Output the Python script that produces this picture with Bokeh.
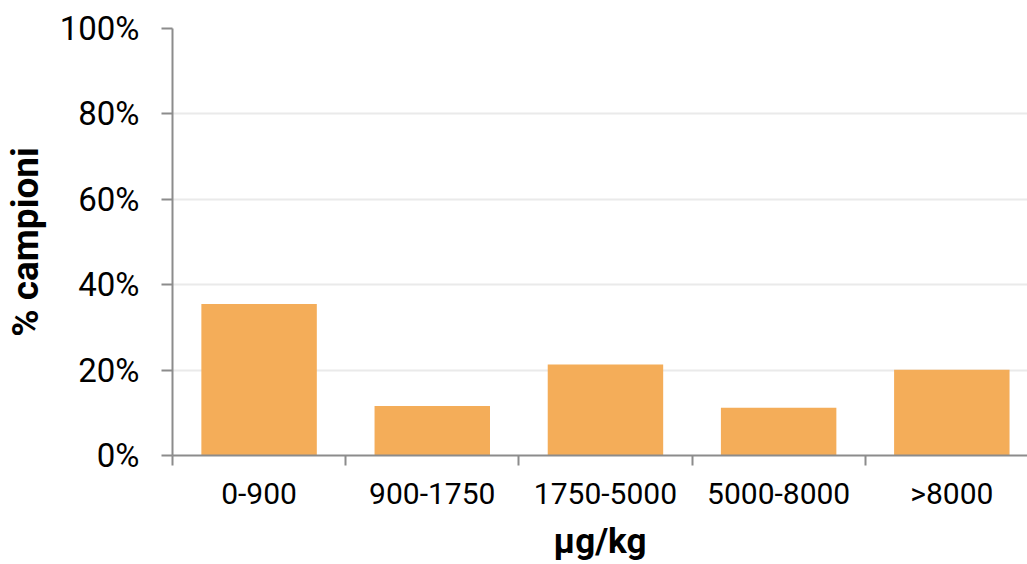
from bokeh.plotting import figure
from bokeh.models import Range1d, FixedTicker, PrintfTickFormatter, ColumnDataSource
from bokeh.embed import file_html
from bokeh.resources import INLINE

categories = ["0-900", "900-1750", "1750-5000", "5000-8000", ">8000"]
percent_samples = [35.5, 11.6, 21.3, 11.2, 20.1]
y_ticks = [0, 20, 40, 60, 80, 100]

BAR_COLOR = "#F4AD59"
AXIS_COLOR = "#8C8C8C"
GRID_COLOR = "#EAEAEA"
FONT = "Roboto"

xs = [i + 0.5 for i in range(len(categories))]
src = ColumnDataSource(dict(x=xs, top=percent_samples, cat=categories))

p = figure(width=1027, height=564, output_backend="svg", toolbar_location=None,
           x_range=Range1d(0, 4.937), y_range=Range1d(0, 100),
           min_border_left=171, min_border_top=28, min_border_right=0, min_border_bottom=108)
p.outline_line_color = None
p.background_fill_color = "white"
p.border_fill_color = "white"

p.vbar(x="x", top="top", width=2/3, bottom=0, source=src,
       fill_color=BAR_COLOR, line_color=None)

# x axis: labels at centres, tick marks at category boundaries (minor ticks)
xa = p.xaxis[0]
xa.ticker = FixedTicker(ticks=xs, minor_ticks=list(range(len(categories) + 1)))
xa.major_label_overrides = {x: c for x, c in zip(xs, categories)}
xa.major_tick_line_color = None
xa.major_tick_out = 0
xa.major_tick_in = 0
xa.minor_tick_out = 10
xa.minor_tick_in = 0
xa.minor_tick_line_color = AXIS_COLOR
xa.minor_tick_line_width = 2
xa.axis_line_color = AXIS_COLOR
xa.axis_line_width = 2
xa.major_label_text_font = FONT
xa.major_label_text_font_size = "30px"
xa.major_label_text_color = "black"
xa.major_label_standoff = 10
xa.axis_label = "µg/kg"
xa.axis_label_text_font = FONT
xa.axis_label_text_font_size = "35px"
xa.axis_label_text_font_style = "bold"
xa.axis_label_text_color = "black"
xa.axis_label_standoff = 7

ya = p.yaxis[0]
ya.ticker = FixedTicker(ticks=y_ticks, minor_ticks=[])
ya.formatter = PrintfTickFormatter(format="%d%%")
ya.major_tick_out = 11
ya.major_tick_in = 0
ya.major_tick_line_color = AXIS_COLOR
ya.major_tick_line_width = 2
ya.axis_line_color = AXIS_COLOR
ya.axis_line_width = 2
ya.major_label_text_font = FONT
ya.major_label_text_font_size = "33px"
ya.major_label_text_color = "black"
ya.major_label_standoff = 22
ya.axis_label = "% campioni"
ya.axis_label_text_font = FONT
ya.axis_label_text_font_size = "37px"
ya.axis_label_text_font_style = "bold"
ya.axis_label_text_color = "black"
ya.axis_label_standoff = 10

p.xgrid.grid_line_color = None
p.ygrid.grid_line_color = GRID_COLOR
p.ygrid.grid_line_width = 2

open("out.html", "w").write(file_html(p, INLINE))
